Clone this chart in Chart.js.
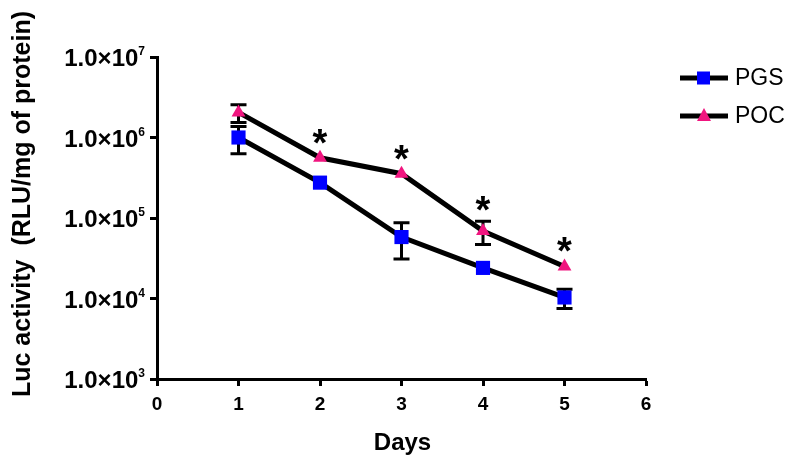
<!DOCTYPE html>
<html>
<head>
<meta charset="utf-8">
<script src="https://cdn.jsdelivr.net/npm/chart.js@4"></script>
<style>
  html, body { margin: 0; padding: 0; background: #fff; }
  #wrap { width: 800px; height: 467px; }
</style>
</head>
<body>
<div id="wrap"><canvas id="chart" width="800" height="467"></canvas></div>
<script>
const days = [1, 2, 3, 4, 5];
const pgs = [1.0e6, 2.75e5, 5.8e4, 2.4e4, 1.03e4];
const pgsHi = [1.37e6, null, 8.7e4, null, 1.3e4];
const pgsLo = [6.3e5, null, 3.1e4, null, 7.5e3];
const poc = [2.05e6, 5.6e5, 3.55e5, 6.9e4, 2.5e4];
const pocHi = [2.55e6, null, null, 9.1e4, null];
const pocLo = [1.54e6, null, null, 4.7e4, null];
const significant = [false, true, true, true, true];
const yTicks = [1e3, 1e4, 1e5, 1e6, 1e7];
const yExp = ['3', '4', '5', '6', '7'];

const FONT = '"Liberation Sans", Arial, sans-serif';

// error bars, drawn under the markers
const errorBars = {
  id: 'errorBars',
  beforeDatasetsDraw(chart) {
    const { ctx, scales: { x, y } } = chart;
    const sets = [[pgsHi, pgsLo], [pocHi, pocLo]];
    ctx.save();
    ctx.strokeStyle = '#000';
    ctx.lineWidth = 3;
    sets.forEach(([hi, lo]) => {
      days.forEach((d, i) => {
        if (hi[i] == null) return;
        const px = x.getPixelForValue(d);
        const top = y.getPixelForValue(hi[i]);
        const bot = y.getPixelForValue(lo[i]);
        ctx.beginPath();
        ctx.moveTo(px, top); ctx.lineTo(px, bot);
        ctx.moveTo(px - 8, top); ctx.lineTo(px + 8, top);
        ctx.moveTo(px - 8, bot); ctx.lineTo(px + 8, bot);
        ctx.stroke();
      });
    });
    ctx.restore();
  }
};

// stars, y tick labels, axis titles and legend
const extras = {
  id: 'extras',
  afterDraw(chart) {
    const { ctx, scales: { x, y } } = chart;
    ctx.save();
    ctx.fillStyle = '#000';

    // significance stars
    ctx.font = 'bold 38px ' + FONT;
    ctx.textAlign = 'center';
    ctx.textBaseline = 'alphabetic';
    days.forEach((d, i) => {
      if (!significant[i]) return;
      const px = x.getPixelForValue(d);
      let cy = y.getPixelForValue(poc[i]) - 24;
      if (pocHi[i] != null) cy = Math.min(cy, y.getPixelForValue(pocHi[i]) - 20);
      ctx.fillText('*', px, cy + 22);
    });

    // y tick labels 1.0×10^n
    ctx.textAlign = 'left';
    yTicks.forEach((v, i) => {
      const py = y.getPixelForValue(v);
      ctx.font = 'bold 12px ' + FONT;
      const ew = ctx.measureText(yExp[i]).width;
      ctx.font = 'bold 24px ' + FONT;
      const base = '1.0×10';
      const bw = ctx.measureText(base).width;
      const right = 145;
      ctx.fillText(base, right - ew - bw, py + 9);
      ctx.font = 'bold 12px ' + FONT;
      ctx.fillText(yExp[i], right - ew, py - 2);
    });

    // y title
    ctx.save();
    ctx.translate(23, 204);
    ctx.rotate(-Math.PI / 2);
    ctx.textAlign = 'center';
    ctx.textBaseline = 'middle';
    ctx.font = 'bold 25px ' + FONT;
    ctx.fillText('Luc activity  (RLU/mg of protein)', 0, 0);
    ctx.restore();

    // x title
    ctx.textAlign = 'center';
    ctx.textBaseline = 'alphabetic';
    ctx.font = 'bold 24px ' + FONT;
    ctx.fillText('Days', (x.left + x.right) / 2 + 1, 450);

    // legend
    const items = [
      { label: 'PGS', color: '#0000ff', style: 'rect', ly: 78 },
      { label: 'POC', color: '#f0157f', style: 'triangle', ly: 116 }
    ];
    items.forEach(it => {
      ctx.strokeStyle = '#000';
      ctx.lineWidth = 5;
      ctx.beginPath();
      ctx.moveTo(680, it.ly); ctx.lineTo(728, it.ly);
      ctx.stroke();
      ctx.fillStyle = it.color;
      if (it.style === 'rect') {
        ctx.fillRect(697, it.ly - 6.5, 13, 13);
      } else {
        ctx.beginPath();
        ctx.moveTo(704, it.ly - 8);
        ctx.lineTo(711, it.ly + 5);
        ctx.lineTo(697, it.ly + 5);
        ctx.closePath();
        ctx.fill();
      }
      ctx.fillStyle = '#000';
      ctx.font = '23px ' + FONT;
      ctx.textAlign = 'left';
      ctx.textBaseline = 'middle';
      ctx.fillText(it.label, 735, it.ly + 1);
    });
    ctx.restore();
  }
};

const ctx = document.getElementById('chart').getContext('2d');
new Chart(ctx, {
  type: 'line',
  data: {
    datasets: [
      {
        label: 'PGS',
        data: days.map((d, i) => ({ x: d, y: pgs[i] })),
        borderColor: '#000',
        borderWidth: 5,
        pointStyle: 'rect',
        pointRadius: 10,
        pointBackgroundColor: '#0000ff',
        pointBorderWidth: 0,
        pointBorderColor: '#0000ff',
        tension: 0
      },
      {
        label: 'POC',
        data: days.map((d, i) => ({ x: d, y: poc[i] })),
        borderColor: '#000',
        borderWidth: 5,
        pointStyle: 'triangle',
        pointRadius: 8,
        pointBackgroundColor: '#f0157f',
        pointBorderWidth: 0,
        pointBorderColor: '#f0157f',
        tension: 0
      }
    ]
  },
  options: {
    responsive: false,
    animation: false,
    layout: { padding: { top: 57, right: 154, left: 0, bottom: 0 } },
    plugins: {
      legend: { display: false },
      tooltip: { enabled: false }
    },
    scales: {
      x: {
        type: 'linear',
        min: 0,
        max: 6,
        ticks: { stepSize: 1, color: '#000', font: { family: FONT, size: 19, weight: 'bold' }, padding: 7 },
        grid: { drawOnChartArea: false, tickLength: 7, tickColor: '#000', tickWidth: 3 },
        border: { color: '#000', width: 3 },
        afterFit(scale) { scale.height = 88; }
      },
      y: {
        type: 'logarithmic',
        min: 1e3,
        max: 1e7,
        afterBuildTicks(scale) { scale.ticks = yTicks.map(v => ({ value: v })); },
        ticks: { callback: () => '' },
        grid: { drawOnChartArea: false, tickLength: 7, tickColor: '#000', tickWidth: 3 },
        border: { color: '#000', width: 3 },
        afterFit(scale) { scale.width = 157; }
      }
    }
  },
  plugins: [errorBars, extras]
});
</script>
</body>
</html>
